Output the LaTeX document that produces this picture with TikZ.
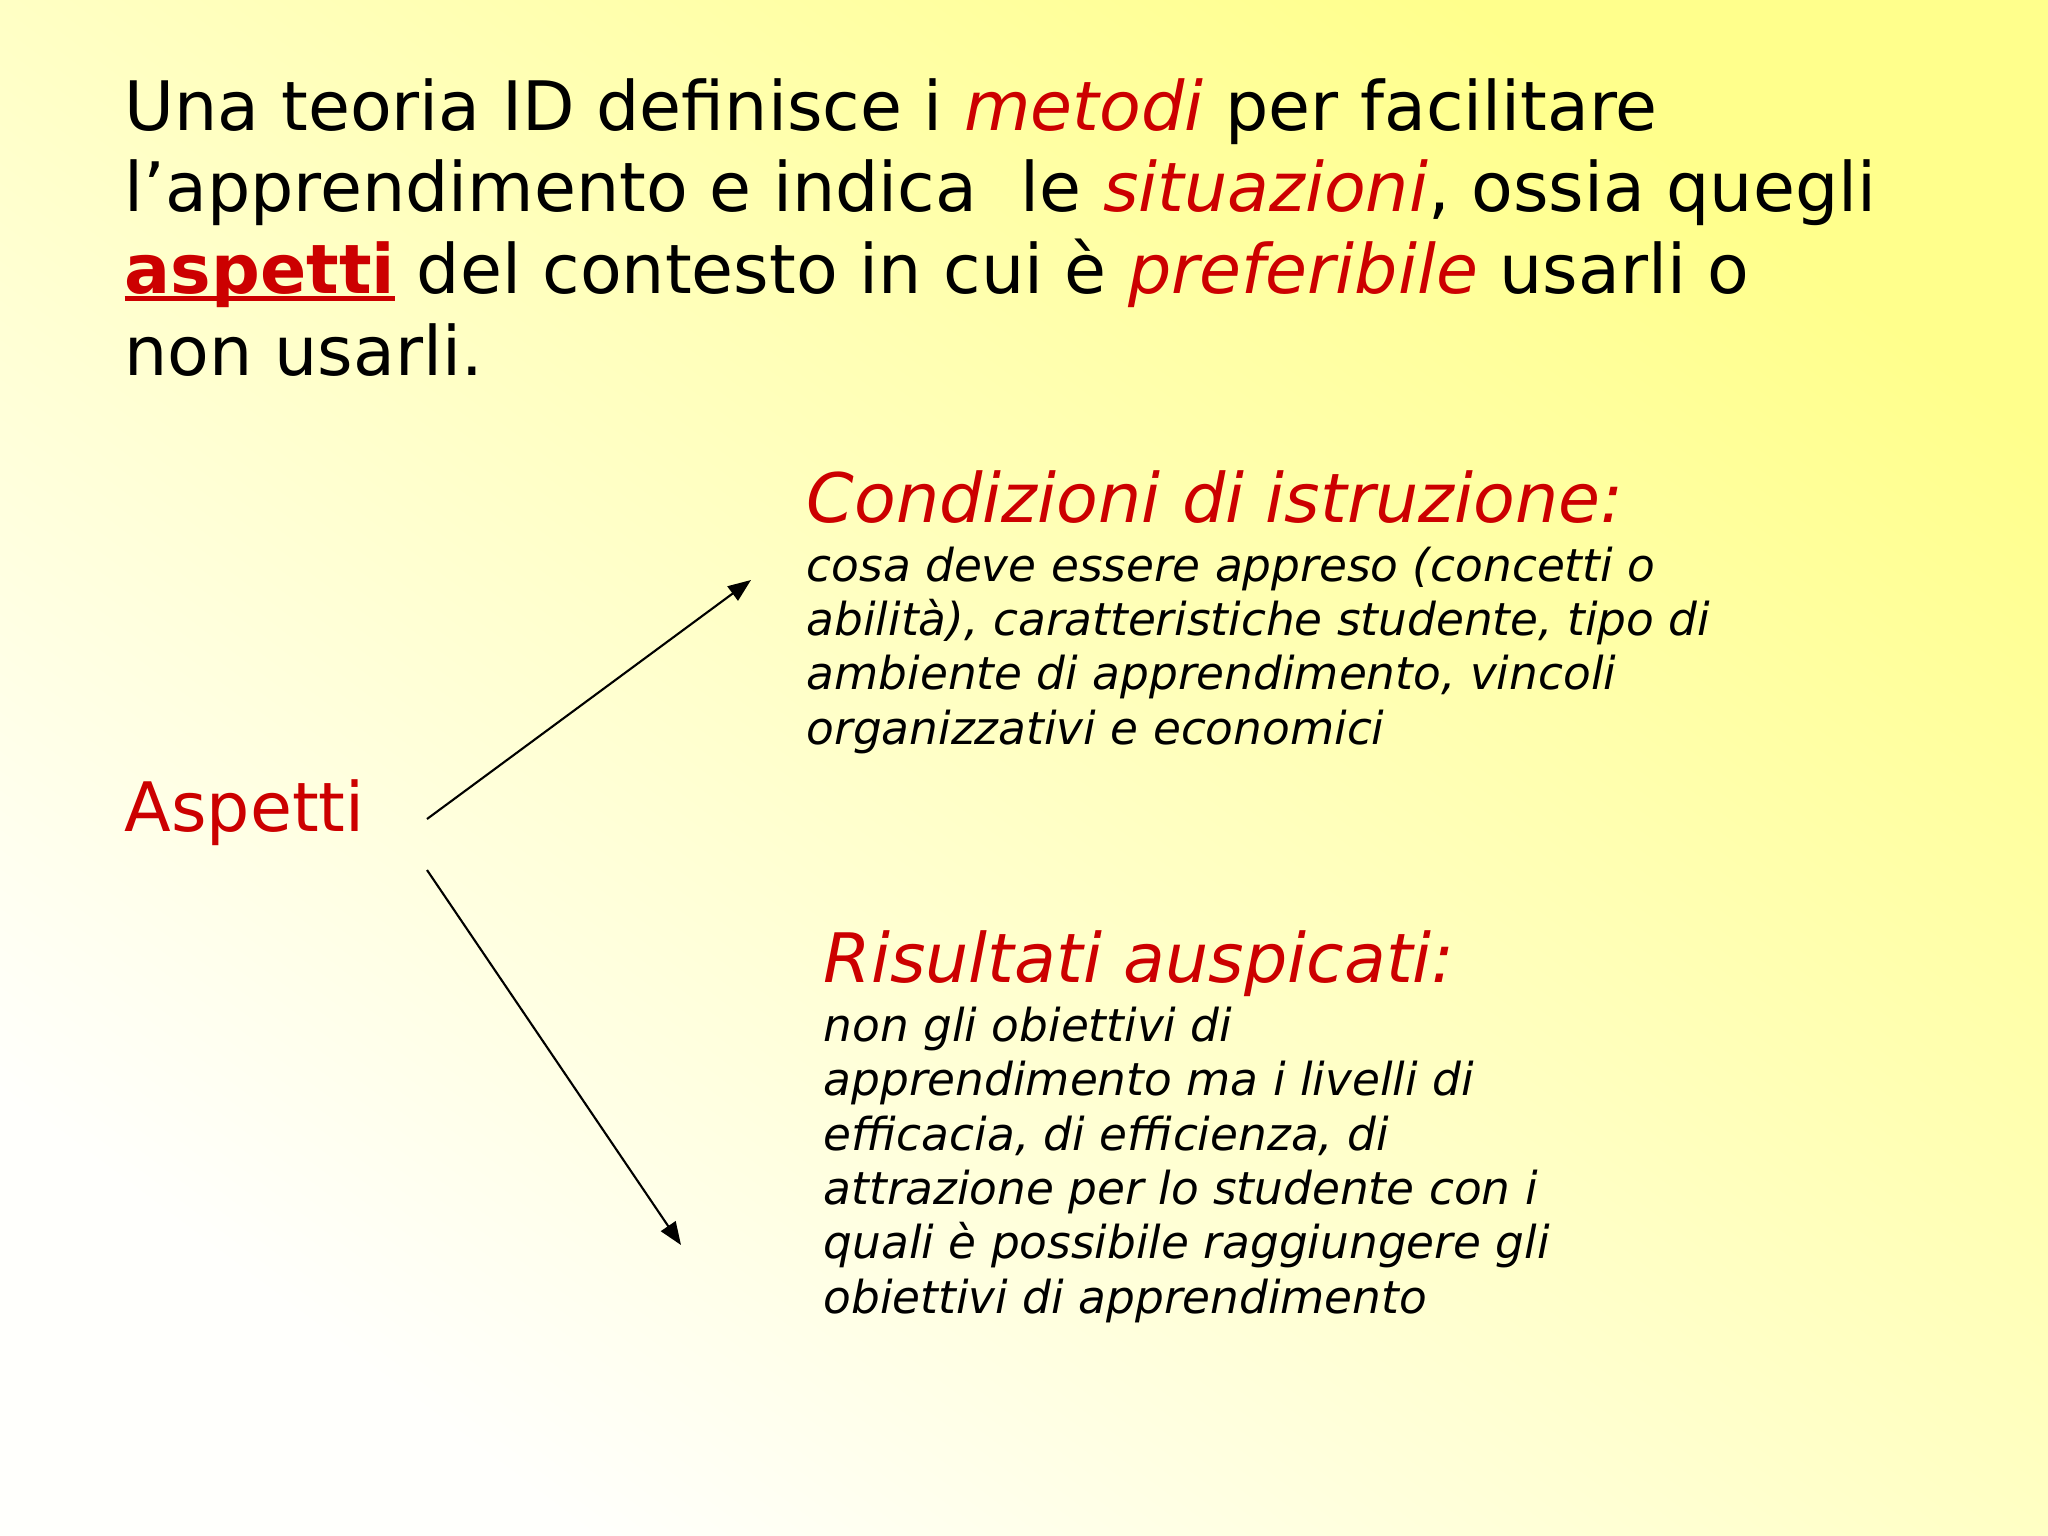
\documentclass[tikz,border=0pt]{standalone}
\usepackage{fontspec}
\setmainfont{DejaVu Sans}
\usetikzlibrary{arrows.meta}

\definecolor{slidered}{RGB}{204,0,0}
\definecolor{slideyellow}{RGB}{255,255,140}
\definecolor{slidemid}{RGB}{255,255,210}
\definecolor{slidepale}{RGB}{255,255,252}
\newcommand{\redul}[1]{\setbox0\hbox{#1}\rlap{\rule[-0.115em]{\wd0}{0.075em}}\box0}

\tikzset{
  bigtext/.style={anchor=base west,inner sep=0pt,align=left,font=\fontsize{19.4}{23.2}\selectfont},
  smalltext/.style={anchor=base west,inner sep=0pt,align=left,font=\fontsize{12.9}{15.45}\selectfont\itshape},
  arr/.style={-{Triangle[length=6.5pt,width=5pt]},line width=0.6pt}
}

\begin{document}
\begin{tikzpicture}[x=0.01cm,y=-0.01cm]
\shade[shading=axis,top color=slideyellow,middle color=slidemid,bottom color=slidepale,shading angle=-37] (0,0) rectangle (2048,1536);
\useasboundingbox (0,0) rectangle (2048,1536);

\node[bigtext] (intro) at (124,375) {Una teoria ID definisce i \textcolor{slidered}{\itshape metodi} per facilitare\\
l’apprendimento e indica \ le \textcolor{slidered}{\itshape situazioni}, ossia quegli\\
{\color{slidered}\bfseries\redul{aspetti}} del contesto in cui è \textcolor{slidered}{\itshape preferibile} usarli o\\
non usarli.};

\node[bigtext,text=slidered] (asp) at (124,831) {Aspetti};

\node[bigtext,text=slidered,font=\fontsize{19.4}{23.2}\selectfont\itshape] (cond) at (806,522) {Condizioni di istruzione:};
\node[smalltext] (condtxt) at (806,744) {cosa deve essere appreso (concetti o\\
abilità), caratteristiche studente, tipo di\\
ambiente di apprendimento, vincoli\\
organizzativi e economici};

\node[bigtext,text=slidered,font=\fontsize{19.4}{23.2}\selectfont\itshape] (ris) at (823,982) {Risultati auspicati:};
\node[smalltext] (ristxt) at (823,1313) {non gli obiettivi di\\
apprendimento ma i livelli di\\
efficacia, di efficienza, di\\
attrazione per lo studente con i\\
quali è possibile raggiungere gli\\
obiettivi di apprendimento};

\coordinate (up0) at (427,819);
\coordinate (up1) at (751,580);
\coordinate (dn0) at (427,870);
\coordinate (dn1) at (681,1245);

\draw[arr] (up0) -- (up1);
\draw[arr] (dn0) -- (dn1);
\end{tikzpicture}
\end{document}
